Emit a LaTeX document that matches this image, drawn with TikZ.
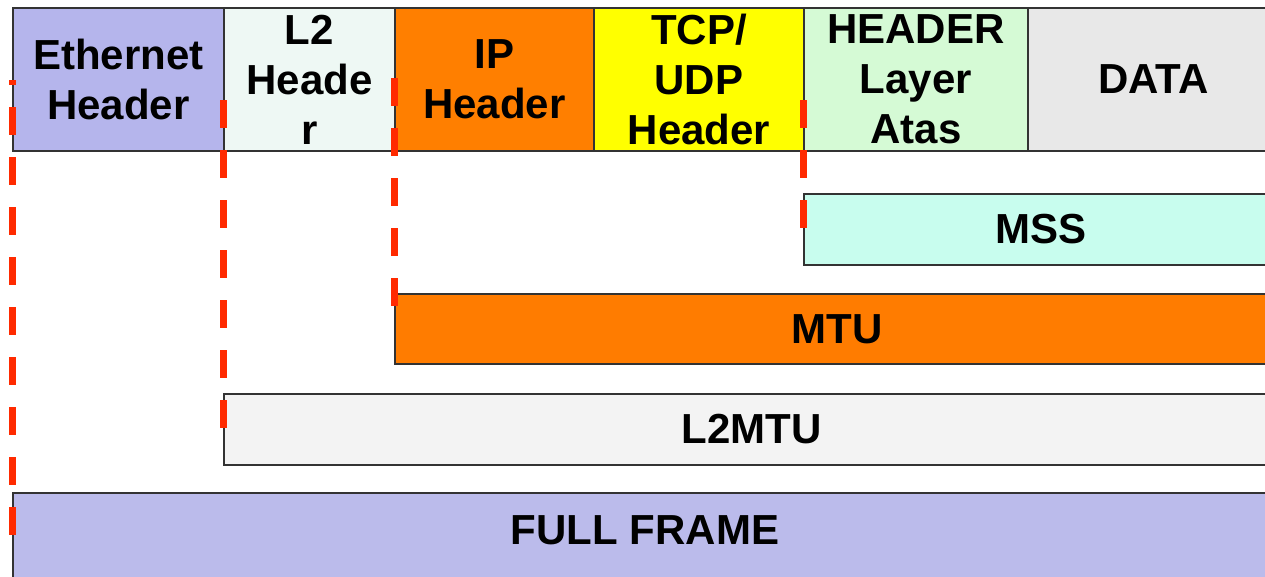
\documentclass[tikz,border=0pt]{standalone}
\usepackage{fontspec}
\setmainfont{Liberation Sans}
\definecolor{cEth}{HTML}{B5B5EC}
\definecolor{cFull}{HTML}{BBBBEB}
\definecolor{cLtwo}{HTML}{EEF8F4}
\definecolor{cIP}{HTML}{FF7F00}
\definecolor{cTCP}{HTML}{FFFF00}
\definecolor{cHLA}{HTML}{D5FAD5}
\definecolor{cData}{HTML}{E8E8E8}
\definecolor{cMSS}{HTML}{C8FDEE}
\definecolor{cMTU}{HTML}{FF7C00}
\definecolor{cLtwoMTU}{HTML}{F3F3F3}
\definecolor{cRed}{HTML}{FF2A00}
\definecolor{cBorder}{HTML}{333333}
\begin{document}
\begin{tikzpicture}[x=1pt,y=-1pt,
  cell/.style={draw=cBorder, line width=1.8pt, anchor=north west, inner sep=0pt,
    align=center, font=\fontsize{42}{50}\selectfont\bfseries},
  lbl/.style={inner sep=0pt, font=\fontsize{42}{50}\selectfont\bfseries},
  cut/.style={draw=cRed, line width=7pt, dash pattern=on 28pt off 22pt}]
\useasboundingbox (0,0) rectangle (1265,576);
\clip (0,0) rectangle (1265,576);
\fill[white] (0,0) rectangle (1265,576);
% top row
\node[cell, fill=cEth, minimum width=211pt, minimum height=143pt] (eth) at (12,7) {Ethernet\\Header};
\node[cell, fill=cLtwo, minimum width=171pt, minimum height=143pt] (ltwo) at (223,7) {L2\\Heade\\r};
\node[cell, fill=cIP, minimum width=199pt, minimum height=143pt] (ip) at (394,7) {IP\\Header};
\node[cell, fill=cTCP, minimum width=210pt, minimum height=143pt] (tcp) at (593,7) {TCP/\\UDP\\Header};
\node[cell, fill=cHLA, minimum width=224pt, minimum height=143pt] (hla) at (803,7) {HEADER\\Layer\\Atas};
\node[cell, fill=cData, minimum width=251pt, minimum height=143pt] (data) at (1027,7) {DATA};
% lower bars
\node[cell, fill=cMSS, minimum width=475pt, minimum height=71pt] (mss) at (803,193) {MSS};
\node[cell, fill=cMTU, minimum width=884pt, minimum height=70pt] (mtu) at (394,293) {MTU};
\node[cell, fill=cLtwoMTU, minimum width=1055pt, minimum height=71pt] (ltwomtu) at (223,393) {L2MTU};
\node[cell, fill=cFull, minimum width=1266pt, minimum height=110pt] (full) at (12,492) {};
\node[lbl] (fulltxt) at (645,530) {FULL FRAME};
% dashed boundary lines
\coordinate (a1) at (12,80);  \coordinate (a2) at (12,535);
\coordinate (b1) at (223,100); \coordinate (b2) at (223,428);
\coordinate (c1) at (394,78);  \coordinate (c2) at (394,306);
\coordinate (d1) at (803,100); \coordinate (d2) at (803,228);
\draw[cut, dash phase=23pt] (a1) -- (a2);
\draw[cut] (b1) -- (b2);
\draw[cut] (c1) -- (c2);
\draw[cut] (d1) -- (d2);
\end{tikzpicture}
\end{document}
